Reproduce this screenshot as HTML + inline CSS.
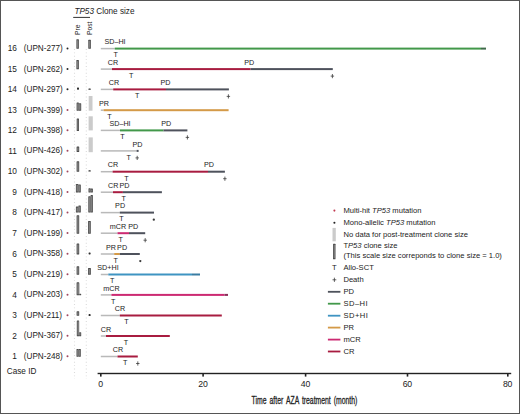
<!DOCTYPE html>
<html><head><meta charset="utf-8"><style>
html,body{margin:0;padding:0;background:#fff;}
svg{display:block;font-family:"Liberation Sans", sans-serif;}
</style></head><body>
<svg width="520" height="414" viewBox="0 0 520 414">
<rect x="0.5" y="0.5" width="519" height="413" fill="#fff" stroke="#555" stroke-width="1"/>
<text x="74.4" y="14.2" font-size="8.2" fill="#222"><tspan font-style="italic">TP53</tspan> Clone size</text>
<rect x="73.2" y="16.9" width="16.8" height="1" fill="#333"/>
<text transform="translate(80.1,35) rotate(-90) scale(0.94,1)" font-size="7.1" fill="#222">Pre</text>
<text transform="translate(92.0,35) rotate(-90) scale(0.94,1)" font-size="7.1" fill="#222">Post</text>
<line x1="74.5" y1="49" x2="74.5" y2="379" stroke="#dadada" stroke-width="1.1" stroke-dasharray="0.9 2.5"/>
<line x1="86.3" y1="49" x2="86.3" y2="379" stroke="#dadada" stroke-width="1.1" stroke-dasharray="0.9 2.5"/>
<text transform="translate(16.9,51.20) scale(0.9346,1)" font-size="8.88" fill="#222" text-anchor="end">16</text>
<text transform="translate(23.8,51.00) scale(0.9346,1)" font-size="8.72" fill="#222">(UPN-277)</text>
<circle cx="67.5" cy="48.40" r="1.0" fill="#262626"/>
<rect x="76.40" y="39.30" width="2.50" height="9.50" rx="0.5" fill="#4c4c4c"/><rect x="77.00" y="40.30" width="1.30" height="7.50" fill="#7e7e7e"/>
<rect x="88.30" y="39.80" width="2.60" height="9.00" rx="0.5" fill="#4c4c4c"/><rect x="88.90" y="40.80" width="1.40" height="7.00" fill="#7e7e7e"/>
<rect x="100.8" y="47.85" width="14.00" height="1.5" fill="#b9b9b9"/>
<rect x="114.8" y="47.60" width="366.20" height="2" fill="#42984a"/>
<rect x="481" y="47.60" width="5.00" height="2" fill="#3f6a4a"/>
<text x="115" y="44.20" font-size="7.2" fill="#222" text-anchor="middle">SD–HI</text>
<text x="115.7" y="57.40" font-size="7.2" fill="#222" text-anchor="middle">T</text>
<text transform="translate(16.9,71.70) scale(0.9346,1)" font-size="8.88" fill="#222" text-anchor="end">15</text>
<text transform="translate(23.8,71.50) scale(0.9346,1)" font-size="8.72" fill="#222">(UPN-262)</text>
<circle cx="67.5" cy="68.90" r="1.0" fill="#262626"/>
<rect x="76.40" y="60.10" width="2.50" height="9.20" rx="0.5" fill="#4c4c4c"/><rect x="77.00" y="61.10" width="1.30" height="7.20" fill="#7e7e7e"/>

<rect x="100.8" y="68.35" width="11.20" height="1.5" fill="#b9b9b9"/>
<rect x="112" y="68.10" width="138.60" height="2" fill="#a81c40"/>
<rect x="250.6" y="68.10" width="82.20" height="2" fill="#4e525c"/>
<text x="113" y="64.70" font-size="7.2" fill="#222" text-anchor="middle">CR</text>
<text x="249.2" y="64.70" font-size="7.2" fill="#222" text-anchor="middle">PD</text>
<text x="131.2" y="77.90" font-size="7.2" fill="#222" text-anchor="middle">T</text>
<path d="M330.70 76.10H334.10M332.40 74.00V78.20" stroke="#3a3a3a" stroke-width="0.8"/>
<text transform="translate(16.9,92.00) scale(0.9346,1)" font-size="8.88" fill="#222" text-anchor="end">14</text>
<text transform="translate(23.8,91.80) scale(0.9346,1)" font-size="8.72" fill="#222">(UPN-297)</text>
<circle cx="67.5" cy="89.20" r="1.0" fill="#262626"/>
<rect x="77.0" y="87.6" width="2.00" height="2.10" fill="#2e2e2e" rx="0.6"/>
<rect x="88.4" y="88.5" width="2.40" height="1.30" fill="#2e2e2e" rx="0.6"/>
<rect x="100.8" y="88.65" width="12.40" height="1.5" fill="#b9b9b9"/>
<rect x="113.2" y="88.40" width="52.80" height="2" fill="#a81c40"/>
<rect x="166" y="88.40" width="62.90" height="2" fill="#4e525c"/>
<text x="114" y="85.00" font-size="7.2" fill="#222" text-anchor="middle">CR</text>
<text x="165.4" y="85.00" font-size="7.2" fill="#222" text-anchor="middle">PD</text>
<text x="137.3" y="98.20" font-size="7.2" fill="#222" text-anchor="middle">T</text>
<path d="M226.70 96.40H230.10M228.40 94.30V98.50" stroke="#3a3a3a" stroke-width="0.8"/>
<text transform="translate(16.9,112.80) scale(0.9346,1)" font-size="8.88" fill="#222" text-anchor="end">13</text>
<text transform="translate(23.8,112.60) scale(0.9346,1)" font-size="8.72" fill="#222">(UPN-399)</text>
<circle cx="67.5" cy="110.00" r="1.0" fill="#a04860"/>
<rect x="76.60" y="102.50" width="2.30" height="8.30" rx="0.5" fill="#4c4c4c"/><rect x="77.20" y="103.50" width="1.70" height="6.30" fill="#7e7e7e"/><rect x="78.90" y="103.20" width="2.30" height="7.60" rx="0.5" fill="#4c4c4c"/><rect x="78.90" y="104.20" width="1.70" height="5.60" fill="#7e7e7e"/>
<rect x="88.7" y="96.0" width="3.80" height="14.70" fill="#cbcbcb"/>
<rect x="100.8" y="109.45" width="2.80" height="1.5" fill="#b9b9b9"/>
<rect x="103.6" y="109.20" width="125.00" height="2" fill="#d49a48"/>
<text x="104" y="105.80" font-size="7.2" fill="#222" text-anchor="middle">PR</text>
<text x="109.5" y="119.00" font-size="7.2" fill="#222" text-anchor="middle">T</text>
<text transform="translate(16.9,133.00) scale(0.9346,1)" font-size="8.88" fill="#222" text-anchor="end">12</text>
<text transform="translate(23.8,132.80) scale(0.9346,1)" font-size="8.72" fill="#222">(UPN-398)</text>
<circle cx="67.5" cy="130.20" r="1.0" fill="#a04860"/>
<rect x="76.70" y="118.50" width="2.30" height="12.40" rx="0.5" fill="#4c4c4c"/><rect x="77.30" y="119.50" width="1.10" height="10.40" fill="#7e7e7e"/>
<rect x="88.6" y="116.3" width="4.20" height="14.10" fill="#cbcbcb"/>
<rect x="100.8" y="129.65" width="19.20" height="1.5" fill="#b9b9b9"/>
<rect x="120" y="129.40" width="43.50" height="2" fill="#42984a"/>
<rect x="163.5" y="129.40" width="23.90" height="2" fill="#4e525c"/>
<text x="120" y="126.00" font-size="7.2" fill="#222" text-anchor="middle">SD–HI</text>
<text x="166.3" y="126.00" font-size="7.2" fill="#222" text-anchor="middle">PD</text>
<text x="122.5" y="139.20" font-size="7.2" fill="#222" text-anchor="middle">T</text>
<path d="M185.70 137.40H189.10M187.40 135.30V139.50" stroke="#3a3a3a" stroke-width="0.8"/>
<text transform="translate(16.9,153.50) scale(0.9346,1)" font-size="8.88" fill="#222" text-anchor="end">11</text>
<text transform="translate(23.8,153.30) scale(0.9346,1)" font-size="8.72" fill="#222">(UPN-426)</text>
<circle cx="67.5" cy="150.70" r="1.0" fill="#a04860"/>
<rect x="76.60" y="146.60" width="2.60" height="5.30" rx="0.5" fill="#4c4c4c"/><rect x="77.20" y="147.60" width="1.40" height="3.30" fill="#7e7e7e"/>
<rect x="88.6" y="137.4" width="4.20" height="14.80" fill="#cbcbcb"/>
<rect x="100.8" y="150.15" width="35.80" height="1.5" fill="#b9b9b9"/>
<rect x="136.6" y="149.90" width="2.00" height="2" fill="#4e525c"/>
<text x="137.5" y="146.50" font-size="7.2" fill="#222" text-anchor="middle">PD</text>
<text x="128.6" y="159.70" font-size="7.2" fill="#222" text-anchor="middle">T</text>
<path d="M135.50 157.90H138.90M137.20 155.80V160.00" stroke="#3a3a3a" stroke-width="0.8"/>
<text transform="translate(16.9,174.30) scale(0.9346,1)" font-size="8.88" fill="#222" text-anchor="end">10</text>
<text transform="translate(23.8,174.10) scale(0.9346,1)" font-size="8.72" fill="#222">(UPN-302)</text>
<circle cx="67.5" cy="171.50" r="1.0" fill="#a04860"/>
<rect x="76.60" y="161.30" width="2.60" height="10.50" rx="0.5" fill="#4c4c4c"/><rect x="77.20" y="162.30" width="1.40" height="8.50" fill="#7e7e7e"/>
<rect x="88.4" y="170.3" width="2.40" height="1.30" fill="#2e2e2e" rx="0.6"/>
<rect x="100.8" y="170.95" width="11.80" height="1.5" fill="#b9b9b9"/>
<rect x="112.6" y="170.70" width="95.40" height="2" fill="#a81c40"/>
<rect x="208" y="170.70" width="16.90" height="2" fill="#4e525c"/>
<text x="112.9" y="167.30" font-size="7.2" fill="#222" text-anchor="middle">CR</text>
<text x="208.9" y="167.30" font-size="7.2" fill="#222" text-anchor="middle">PD</text>
<text x="126.5" y="180.50" font-size="7.2" fill="#222" text-anchor="middle">T</text>
<path d="M223.20 178.70H226.60M224.90 176.60V180.80" stroke="#3a3a3a" stroke-width="0.8"/>
<text transform="translate(16.9,194.80) scale(0.9346,1)" font-size="8.88" fill="#222" text-anchor="end">9</text>
<text transform="translate(23.8,194.60) scale(0.9346,1)" font-size="8.72" fill="#222">(UPN-418)</text>
<circle cx="67.5" cy="192.00" r="1.0" fill="#a04860"/>
<rect x="75.90" y="183.90" width="2.50" height="8.60" rx="0.5" fill="#4c4c4c"/><rect x="76.50" y="184.90" width="1.90" height="6.60" fill="#7e7e7e"/><rect x="78.40" y="184.40" width="2.40" height="8.10" rx="0.5" fill="#4c4c4c"/><rect x="78.40" y="185.40" width="1.80" height="6.10" fill="#7e7e7e"/>
<rect x="88.50" y="188.30" width="2.20" height="4.20" rx="0.5" fill="#4c4c4c"/><rect x="89.10" y="189.30" width="1.60" height="2.20" fill="#7e7e7e"/><rect x="90.70" y="188.60" width="2.20" height="3.90" rx="0.5" fill="#4c4c4c"/><rect x="90.70" y="189.60" width="1.60" height="1.90" fill="#7e7e7e"/>
<rect x="100.8" y="191.45" width="12.20" height="1.5" fill="#b9b9b9"/>
<rect x="113" y="191.20" width="9.90" height="2" fill="#a81c40"/>
<rect x="122.9" y="191.20" width="39.00" height="2" fill="#4e525c"/>
<text x="113.2" y="187.80" font-size="7.2" fill="#222" text-anchor="middle">CR</text>
<text x="124.4" y="187.80" font-size="7.2" fill="#222" text-anchor="middle">PD</text>
<text x="123.7" y="201.00" font-size="7.2" fill="#222" text-anchor="middle">T</text>
<text transform="translate(16.9,215.20) scale(0.9346,1)" font-size="8.88" fill="#222" text-anchor="end">8</text>
<text transform="translate(23.8,215.00) scale(0.9346,1)" font-size="8.72" fill="#222">(UPN-417)</text>
<circle cx="67.5" cy="212.40" r="1.0" fill="#a04860"/>
<rect x="75.90" y="206.60" width="2.50" height="6.00" rx="0.5" fill="#4c4c4c"/><rect x="76.50" y="207.60" width="1.90" height="4.00" fill="#7e7e7e"/><rect x="78.40" y="205.60" width="2.40" height="7.00" rx="0.5" fill="#4c4c4c"/><rect x="78.40" y="206.60" width="1.80" height="5.00" fill="#7e7e7e"/>
<rect x="88.30" y="196.30" width="2.30" height="16.30" rx="0.5" fill="#4c4c4c"/><rect x="88.90" y="197.30" width="1.70" height="14.30" fill="#7e7e7e"/><rect x="90.60" y="195.10" width="2.30" height="17.50" rx="0.5" fill="#4c4c4c"/><rect x="90.60" y="196.10" width="1.70" height="15.50" fill="#7e7e7e"/>
<rect x="100.8" y="211.85" width="19.00" height="1.5" fill="#b9b9b9"/>
<rect x="119.8" y="211.60" width="34.20" height="2" fill="#4e525c"/>
<text x="120.1" y="208.20" font-size="7.2" fill="#222" text-anchor="middle">PD</text>
<text x="121.4" y="221.40" font-size="7.2" fill="#222" text-anchor="middle">T</text>
<circle cx="153.8" cy="219.70" r="1.15" fill="#3a3a3a"/>
<text transform="translate(16.9,235.80) scale(0.9346,1)" font-size="8.88" fill="#222" text-anchor="end">7</text>
<text transform="translate(23.8,235.60) scale(0.9346,1)" font-size="8.72" fill="#222">(UPN-199)</text>
<circle cx="67.5" cy="233.00" r="1.0" fill="#a04860"/>
<rect x="76.60" y="215.20" width="2.60" height="18.60" rx="0.5" fill="#4c4c4c"/><rect x="77.20" y="216.20" width="1.40" height="16.60" fill="#7e7e7e"/>
<rect x="88.00" y="221.00" width="2.80" height="12.80" rx="0.5" fill="#4c4c4c"/><rect x="88.60" y="222.00" width="1.60" height="10.80" fill="#7e7e7e"/>
<rect x="100.8" y="232.45" width="16.70" height="1.5" fill="#b9b9b9"/>
<rect x="117.5" y="232.20" width="11.50" height="2" fill="#cc2a72"/>
<rect x="129" y="232.20" width="16.20" height="2" fill="#4e525c"/>
<text x="117.9" y="228.80" font-size="7.2" fill="#222" text-anchor="middle">mCR</text>
<text x="133.2" y="228.80" font-size="7.2" fill="#222" text-anchor="middle">PD</text>
<text x="120.6" y="242.00" font-size="7.2" fill="#222" text-anchor="middle">T</text>
<path d="M143.50 240.20H146.90M145.20 238.10V242.30" stroke="#3a3a3a" stroke-width="0.8"/>
<text transform="translate(16.9,256.60) scale(0.9346,1)" font-size="8.88" fill="#222" text-anchor="end">6</text>
<text transform="translate(23.8,256.40) scale(0.9346,1)" font-size="8.72" fill="#222">(UPN-358)</text>
<circle cx="67.5" cy="253.80" r="1.0" fill="#a04860"/>
<rect x="76.60" y="243.50" width="2.60" height="10.90" rx="0.5" fill="#4c4c4c"/><rect x="77.20" y="244.50" width="1.40" height="8.90" fill="#7e7e7e"/>
<rect x="88.6" y="252.4" width="2.00" height="2.00" fill="#2e2e2e" rx="0.6"/>
<rect x="100.8" y="253.25" width="13.40" height="1.5" fill="#b9b9b9"/>
<rect x="114.2" y="253.00" width="5.60" height="2" fill="#d49a48"/>
<rect x="119.8" y="253.00" width="20.00" height="2" fill="#4e525c"/>
<text x="111" y="249.60" font-size="7.2" fill="#222" text-anchor="middle">PR</text>
<text x="122.1" y="249.60" font-size="7.2" fill="#222" text-anchor="middle">PD</text>
<text x="115.7" y="262.80" font-size="7.2" fill="#222" text-anchor="middle">T</text>
<circle cx="140.3" cy="261.10" r="1.15" fill="#3a3a3a"/>
<text transform="translate(16.9,277.10) scale(0.9346,1)" font-size="8.88" fill="#222" text-anchor="end">5</text>
<text transform="translate(23.8,276.90) scale(0.9346,1)" font-size="8.72" fill="#222">(UPN-219)</text>
<circle cx="67.5" cy="274.30" r="1.0" fill="#a04860"/>
<rect x="76.60" y="266.30" width="2.60" height="8.50" rx="0.5" fill="#4c4c4c"/><rect x="77.20" y="267.30" width="1.40" height="6.50" fill="#7e7e7e"/>
<rect x="88.00" y="268.00" width="2.90" height="6.80" rx="0.5" fill="#4c4c4c"/><rect x="88.60" y="269.00" width="1.70" height="4.80" fill="#7e7e7e"/>
<rect x="100.8" y="273.75" width="7.50" height="1.5" fill="#b9b9b9"/>
<rect x="108.3" y="273.50" width="83.70" height="2" fill="#3f94c2"/>
<rect x="192" y="273.50" width="8.00" height="2" fill="#3a7ca2"/>
<text x="108" y="270.10" font-size="7.2" fill="#222" text-anchor="middle">SD+HI</text>
<text x="112.2" y="283.30" font-size="7.2" fill="#222" text-anchor="middle">T</text>
<text transform="translate(16.9,297.50) scale(0.9346,1)" font-size="8.88" fill="#222" text-anchor="end">4</text>
<text transform="translate(23.8,297.30) scale(0.9346,1)" font-size="8.72" fill="#222">(UPN-203)</text>
<circle cx="67.5" cy="294.70" r="1.0" fill="#a04860"/>
<rect x="76.60" y="282.30" width="2.60" height="13.00" rx="0.5" fill="#4c4c4c"/><rect x="77.20" y="283.30" width="2.00" height="11.00" fill="#7e7e7e"/><rect x="79.20" y="293.80" width="2.00" height="1.50" rx="0.5" fill="#4c4c4c"/><rect x="79.20" y="294.80" width="1.40" height="-0.50" fill="#7e7e7e"/>

<rect x="100.8" y="294.15" width="10.60" height="1.5" fill="#b9b9b9"/>
<rect x="111.4" y="293.90" width="113.10" height="2" fill="#cc2a72"/>
<rect x="224.5" y="293.90" width="3.50" height="2" fill="#8a2e58"/>
<text x="111.5" y="290.50" font-size="7.2" fill="#222" text-anchor="middle">mCR</text>
<text x="113.2" y="303.70" font-size="7.2" fill="#222" text-anchor="middle">T</text>
<text transform="translate(16.9,318.10) scale(0.9346,1)" font-size="8.88" fill="#222" text-anchor="end">3</text>
<text transform="translate(23.8,317.90) scale(0.9346,1)" font-size="8.72" fill="#222">(UPN-211)</text>
<circle cx="67.5" cy="315.30" r="1.0" fill="#a04860"/>
<rect x="76.60" y="311.30" width="2.60" height="4.50" rx="0.5" fill="#4c4c4c"/><rect x="77.20" y="312.30" width="1.40" height="2.50" fill="#7e7e7e"/>
<rect x="88.6" y="314.1" width="2.00" height="2.00" fill="#2e2e2e" rx="0.6"/>
<rect x="100.8" y="314.75" width="19.00" height="1.5" fill="#b9b9b9"/>
<rect x="119.8" y="314.50" width="102.00" height="2" fill="#a81c40"/>
<text x="120" y="311.10" font-size="7.2" fill="#222" text-anchor="middle">CR</text>
<text x="126.5" y="324.30" font-size="7.2" fill="#222" text-anchor="middle">T</text>
<text transform="translate(16.9,338.60) scale(0.9346,1)" font-size="8.88" fill="#222" text-anchor="end">2</text>
<text transform="translate(23.8,338.40) scale(0.9346,1)" font-size="8.72" fill="#222">(UPN-367)</text>
<circle cx="67.5" cy="335.80" r="1.0" fill="#a04860"/>
<rect x="76.80" y="320.40" width="2.30" height="15.90" rx="0.5" fill="#4c4c4c"/><rect x="77.40" y="321.40" width="1.70" height="13.90" fill="#7e7e7e"/><rect x="79.10" y="332.20" width="2.10" height="4.10" rx="0.5" fill="#4c4c4c"/><rect x="79.10" y="333.20" width="1.50" height="2.10" fill="#7e7e7e"/>

<rect x="100.8" y="335.25" width="5.20" height="1.5" fill="#b9b9b9"/>
<rect x="106" y="335.00" width="63.80" height="2" fill="#a81c40"/>
<text x="106" y="331.60" font-size="7.2" fill="#222" text-anchor="middle">CR</text>
<text x="126" y="344.80" font-size="7.2" fill="#222" text-anchor="middle">T</text>
<text transform="translate(16.9,359.10) scale(0.9346,1)" font-size="8.88" fill="#222" text-anchor="end">1</text>
<text transform="translate(23.8,358.90) scale(0.9346,1)" font-size="8.72" fill="#222">(UPN-248)</text>
<circle cx="67.5" cy="356.30" r="1.0" fill="#a04860"/>
<rect x="76.50" y="349.00" width="2.20" height="7.80" rx="0.5" fill="#4c4c4c"/><rect x="77.10" y="350.00" width="1.60" height="5.80" fill="#7e7e7e"/><rect x="78.70" y="349.00" width="2.10" height="7.80" rx="0.5" fill="#4c4c4c"/><rect x="78.70" y="350.00" width="1.50" height="5.80" fill="#7e7e7e"/>

<rect x="100.8" y="355.75" width="16.70" height="1.5" fill="#b9b9b9"/>
<rect x="117.5" y="355.50" width="20.30" height="2" fill="#a81c40"/>
<text x="118" y="352.10" font-size="7.2" fill="#222" text-anchor="middle">CR</text>
<text x="125.2" y="365.30" font-size="7.2" fill="#222" text-anchor="middle">T</text>
<path d="M136.10 363.50H139.50M137.80 361.40V365.60" stroke="#3a3a3a" stroke-width="0.8"/>
<text x="6.8" y="373.7" font-size="8.2" fill="#222">Case ID</text>
<rect x="97.6" y="372.8" width="413.6" height="1.4" fill="#222"/>
<rect x="100.00" y="373" width="1.6" height="3.6" fill="#222"/>
<text x="100.60" y="387.4" font-size="8.7" fill="#222" text-anchor="middle" letter-spacing="-0.3">0</text>
<rect x="202.30" y="373" width="1.6" height="3.6" fill="#222"/>
<text x="202.90" y="387.4" font-size="8.7" fill="#222" text-anchor="middle" letter-spacing="-0.3">20</text>
<rect x="304.80" y="373" width="1.6" height="3.6" fill="#222"/>
<text x="305.40" y="387.4" font-size="8.7" fill="#222" text-anchor="middle" letter-spacing="-0.3">40</text>
<rect x="406.70" y="373" width="1.6" height="3.6" fill="#222"/>
<text x="407.30" y="387.4" font-size="8.7" fill="#222" text-anchor="middle" letter-spacing="-0.3">60</text>
<rect x="507.00" y="373" width="1.6" height="3.6" fill="#222"/>
<text x="507.60" y="387.4" font-size="8.7" fill="#222" text-anchor="middle" letter-spacing="-0.3">80</text>
<text transform="translate(251.6,404.4) scale(0.645,1)" font-size="10.6" fill="#222" stroke="#222" stroke-width="0.3" word-spacing="1.8">Time after AZA treatment (month)</text>
<circle cx="334.4" cy="210.6" r="1.05" fill="#c23a50"/>
<text transform="translate(343.4,213.0) scale(1.0000,1)" font-size="7.6" fill="#222">Multi-hit <tspan font-style="italic">TP53</tspan> mutation</text>
<circle cx="334.4" cy="222.7" r="1.05" fill="#222"/>
<text transform="translate(343.4,225.1) scale(1.0000,1)" font-size="7.6" fill="#222">Mono-allelic <tspan font-style="italic">TP53</tspan> mutation</text>
<rect x="332.5" y="227.9" width="3.3" height="13.4" fill="#cbcbcb"/>
<text transform="translate(343.4,237.1) scale(1.0000,1)" font-size="7.6" fill="#222">No data for post-treatment clone size</text>
<rect x="333.00" y="243.80" width="2.50" height="15.40" rx="0.5" fill="#4c4c4c"/><rect x="333.60" y="244.80" width="1.30" height="13.40" fill="#7e7e7e"/>
<text transform="translate(343.4,248.3) scale(1.0000,1)" font-size="7.6" fill="#222">T<tspan font-style="italic">P53</tspan> clone size</text>
<text transform="translate(343.4,257.9) scale(1.0000,1)" font-size="7.6" fill="#222">(This scale size correponds to clone size = 1.0)</text>
<text x="334.4" y="270.1" font-size="7.6" fill="#222" text-anchor="middle">T</text>
<text transform="translate(343.4,270.1) scale(1.0000,1)" font-size="7.6" fill="#222">Allo-SCT</text>
<path d="M332.5 279.8H336.3M334.4 277.7V281.9" stroke="#3a3a3a" stroke-width="0.8"/>
<text transform="translate(343.4,281.8) scale(1.0000,1)" font-size="7.6" fill="#222">Death</text>
<rect x="327.9" y="290.90" width="12.5" height="1.8" fill="#4e525c"/>
<text transform="translate(343.4,294.30) scale(1.0000,1)" font-size="7.6" fill="#222">PD</text>
<rect x="327.9" y="302.80" width="12.5" height="1.8" fill="#42984a"/>
<text transform="translate(343.4,306.20) scale(1.0000,1)" font-size="7.6" fill="#222" letter-spacing="0.48">SD–HI</text>
<rect x="327.9" y="314.80" width="12.5" height="1.8" fill="#3f94c2"/>
<text transform="translate(343.4,318.20) scale(1.0000,1)" font-size="7.6" fill="#222" letter-spacing="0.48">SD+HI</text>
<rect x="327.9" y="326.70" width="12.5" height="1.8" fill="#d49a48"/>
<text transform="translate(343.4,330.10) scale(1.0000,1)" font-size="7.6" fill="#222">PR</text>
<rect x="327.9" y="338.70" width="12.5" height="1.8" fill="#cc2a72"/>
<text transform="translate(343.4,342.10) scale(1.0000,1)" font-size="7.6" fill="#222">mCR</text>
<rect x="327.9" y="350.60" width="12.5" height="1.8" fill="#a81c40"/>
<text transform="translate(343.4,354.00) scale(1.0000,1)" font-size="7.6" fill="#222">CR</text>
</svg>
</body></html>
